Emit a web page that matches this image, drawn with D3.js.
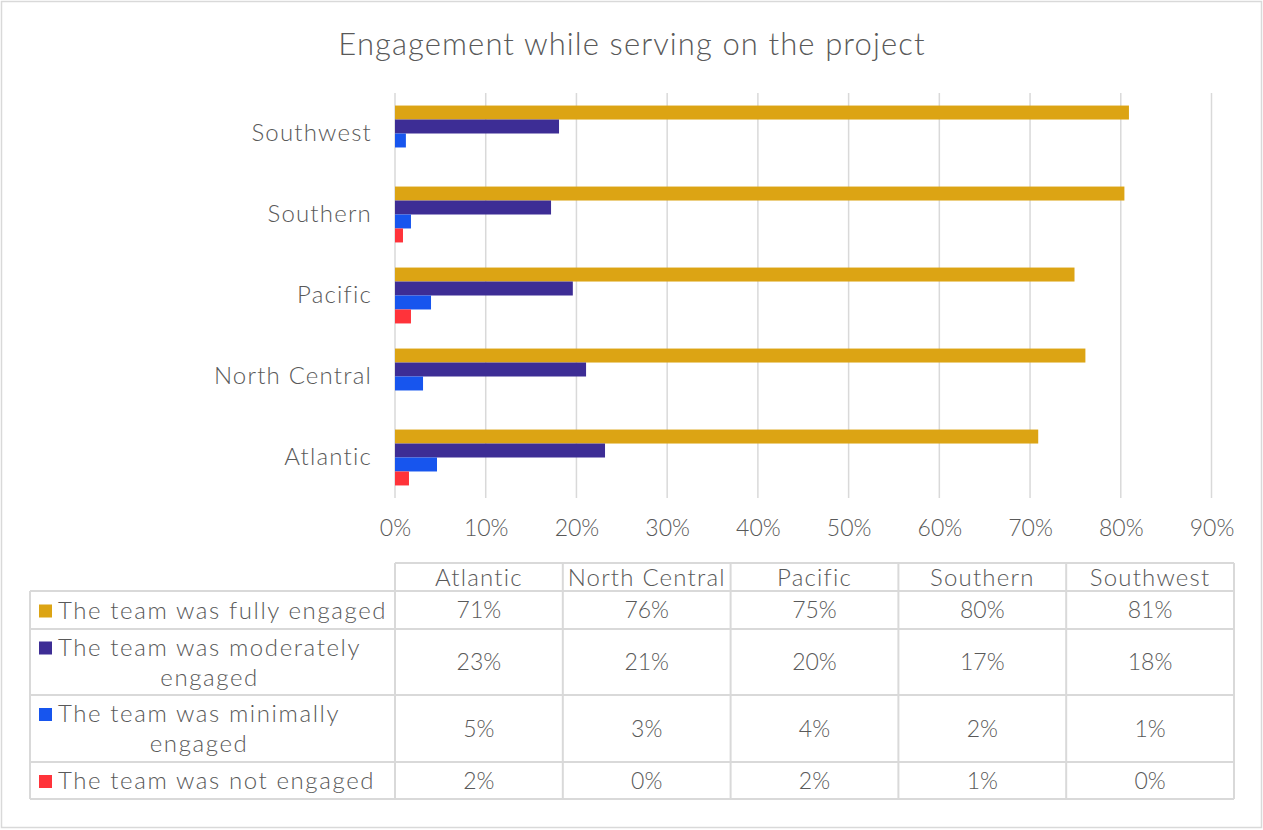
<!DOCTYPE html>
<html>
<head>
<meta charset="utf-8">
<script src="https://cdnjs.cloudflare.com/ajax/libs/d3/7.8.5/d3.min.js"></script>
<style>
  html, body { margin: 0; padding: 0; background: #fff; }
  svg { display: block; }
  text { font-family: "Lato", "Open Sans", sans-serif; fill: #595959; font-weight: 300; }
  .title { font-size: 31px; letter-spacing: 1.1px; }
  .num { font-size: 23px; }
  .label { font-size: 24px; letter-spacing: 1.2px; }
  .legend { font-size: 24px; letter-spacing: 1.6px; }
</style>
</head>
<body>
<svg id="chart" width="1263" height="830"></svg>
<script>
// Regions, listed bottom-to-top as in the table
const regions = ["Atlantic", "North Central", "Pacific", "Southern", "Southwest"];

// Share of teams per engagement level, per region (same order as regions)
const fullyEngaged      = [0.709, 0.761, 0.749, 0.804, 0.809];
const moderatelyEngaged = [0.2315, 0.2106, 0.196, 0.172, 0.1808];
const minimallyEngaged  = [0.0463, 0.0309, 0.0397, 0.0176, 0.012];
const notEngaged        = [0.0154, 0.0, 0.0176, 0.0088, 0.0];

const seriesNames = [
  "The team was fully engaged",
  "The team was moderately engaged",
  "The team was minimally engaged",
  "The team was not engaged"
];
const seriesValues = [fullyEngaged, moderatelyEngaged, minimallyEngaged, notEngaged];
const seriesColors = ["#DCA414", "#3D2D95", "#1755EE", "#FF333A"];

const xTicks = [0, 0.1, 0.2, 0.3, 0.4, 0.5, 0.6, 0.7, 0.8, 0.9];
const title = "Engagement while serving on the project";

const svg = d3.select("#chart");
const grid = "#d9d9d9";
const pct = d3.format(".0%");

// outer chart frame
svg.append("rect")
  .attr("x", 1.5).attr("y", 1.5).attr("width", 1260).attr("height", 826)
  .attr("fill", "#fff").attr("stroke", grid).attr("stroke-width", 1.5);

// title
svg.append("text")
  .attr("class", "title")
  .attr("x", 632).attr("y", 55)
  .attr("text-anchor", "middle")
  .text(title);

// scales
const x = d3.scaleLinear().domain([0, 0.9]).range([395, 1211.5]);
const y = d3.scaleBand()
  .domain(regions.slice().reverse())
  .range([93, 498])
  .paddingInner(0.31)
  .paddingOuter(0.155);
const ySub = d3.scaleBand()
  .domain(d3.range(seriesNames.length))
  .range([0, y.bandwidth()]);

// vertical gridlines
svg.append("g")
  .selectAll("line")
  .data(xTicks)
  .join("line")
  .attr("x1", d => x(d)).attr("x2", d => x(d))
  .attr("y1", 93).attr("y2", 498)
  .attr("stroke", grid).attr("stroke-width", 1.5);

// x axis labels
const xAxis = d3.axisBottom(x).tickValues(xTicks).tickFormat(pct).tickSize(0).tickPadding(0);
const gx = svg.append("g").attr("transform", "translate(0,520)").call(xAxis);
gx.select(".domain").remove();
gx.selectAll("text").attr("class", "num").attr("fill", "#595959");

// category labels
const yAxis = d3.axisLeft(y).tickSize(0).tickPadding(23);
const gy = svg.append("g").attr("transform", "translate(395,0)").call(yAxis);
gy.select(".domain").remove();
gy.selectAll("text").attr("class", "label").attr("fill", "#595959");

// bars
const rows = regions.map((r, i) => ({ region: r, values: seriesValues.map(s => s[i]) }));
svg.append("g")
  .selectAll("g")
  .data(rows)
  .join("g")
  .attr("transform", d => `translate(0,${y(d.region)})`)
  .selectAll("rect")
  .data(d => d.values.map((v, k) => ({ v, k })))
  .join("rect")
  .attr("x", x(0))
  .attr("y", d => ySub(d.k))
  .attr("width", d => x(d.v) - x(0))
  .attr("height", ySub.bandwidth())
  .attr("fill", d => seriesColors[d.k]);

// data table
const tLeft = 30, tData = 395, tRight = 1234;
const colW = (tRight - tData) / regions.length;
const headerTop = 563;
const rowEdges = [591, 629, 695, 762, 799];
const table = svg.append("g");
function hline(x1, x2, yy) {
  table.append("line").attr("x1", x1).attr("x2", x2).attr("y1", yy).attr("y2", yy)
    .attr("stroke", grid).attr("stroke-width", 2);
}
function vline(xx, y1, y2) {
  table.append("line").attr("x1", xx).attr("x2", xx).attr("y1", y1).attr("y2", y2)
    .attr("stroke", grid).attr("stroke-width", 2);
}
hline(tData, tRight, headerTop);
rowEdges.forEach(e => hline(tLeft, tRight, e));
vline(tLeft, rowEdges[0], rowEdges[rowEdges.length - 1]);
for (let c = 0; c <= regions.length; c++) vline(tData + c * colW, headerTop, rowEdges[rowEdges.length - 1]);

// header row
regions.forEach((r, c) => {
  table.append("text")
    .attr("class", "label")
    .attr("x", tData + (c + 0.5) * colW).attr("y", (headerTop + rowEdges[0]) / 2)
    .attr("dy", "0.36em").attr("text-anchor", "middle")
    .text(r);
});

// series rows: legend key + values
const legendLines = [
  ["The team was fully engaged"],
  ["The team was moderately", "engaged"],
  ["The team was minimally", "engaged"],
  ["The team was not engaged"]
];
seriesNames.forEach((name, k) => {
  const top = rowEdges[k], bot = rowEdges[k + 1], mid = (top + bot) / 2;
  const lines = legendLines[k];
  const lh = 30;
  const firstBase = mid - (lines.length - 1) * lh / 2 + 8.5;
  const t1 = table.append("text")
    .attr("class", "legend")
    .attr("x", 58).attr("y", firstBase)
    .text(lines[0]);
  const w = t1.node().getComputedTextLength();
  if (lines.length > 1) {
    table.append("text")
      .attr("class", "legend")
      .attr("x", 58 + w / 2).attr("y", firstBase + lh)
      .attr("text-anchor", "middle")
      .text(lines[1]);
  }
  table.append("rect")
    .attr("x", 39).attr("y", firstBase - 14).attr("width", 13).attr("height", 13)
    .attr("fill", seriesColors[k]);
  seriesValues[k].forEach((v, c) => {
    table.append("text")
      .attr("class", "num")
      .attr("x", tData + (c + 0.5) * colW).attr("y", mid)
      .attr("dy", "0.36em").attr("text-anchor", "middle")
      .text(pct(v));
  });
});
</script>
</body>
</html>
